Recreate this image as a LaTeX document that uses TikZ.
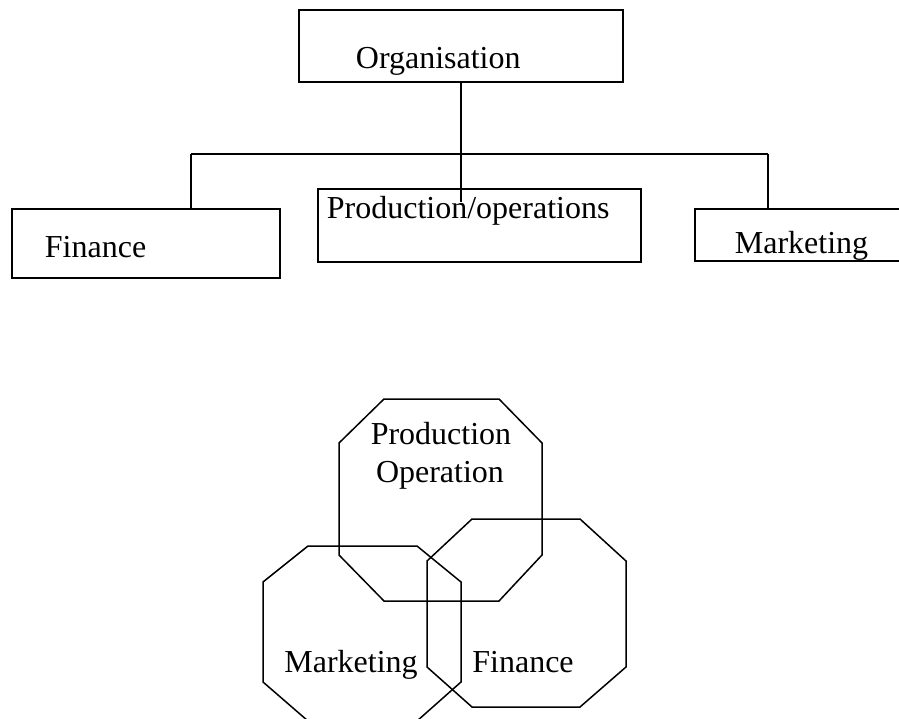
\documentclass[tikz,border=0pt]{standalone}
\usepackage{fontspec}
\setmainfont{Liberation Serif}
\begin{document}
\begin{tikzpicture}[x=1pt, y=-1pt, line width=1.8pt,
  box/.style={draw, rectangle, inner sep=0pt},
  lbl/.style={inner sep=0pt, font=\fontsize{32}{38}\selectfont},
  oct/.style={line width=1.5pt, line join=miter}]
\useasboundingbox (0,0) rectangle (899,719);

% Organograma
\node[box, minimum width=324pt, minimum height=72pt] (org) at (461,46) {};
\node[box, minimum width=268pt, minimum height=69pt] (fin) at (146,243.5) {};
\node[box, minimum width=323pt, minimum height=73pt] (prod) at (479.5,225.5) {};
\node[box, minimum width=220pt, minimum height=52pt] (mkt) at (805,235) {};
\node[lbl, anchor=base west] (orgtext) at (355,69) {Organisation};
\node[lbl, anchor=base west] (fintext) at (44,258) {Finance};
\node[lbl, anchor=base west] (prodtext) at (326,219) {Production/operations};
\node[lbl, anchor=base west] (mkttext) at (734,254) {Marketing};

% Ligacoes
\coordinate (trunkend) at (461,202);
\coordinate (barleft) at (191,154);
\coordinate (barright) at (768,154);
\draw (org.south) -- (trunkend);
\draw (barleft) -- (barright);
\draw (barleft) -- (barleft |- fin.north);
\draw (barright) -- (barright |- mkt.north);

% Octogonos
\draw[oct] (384,399) -- (499,399) -- (542,443) -- (542,555) -- (499,601) -- (384,601) -- (339,555) -- (339,443) -- cycle;
\draw[oct] (308,546) -- (417,546) -- (461,582) -- (461,682) -- (417,721) -- (308,721) -- (263,682) -- (263,582) -- cycle;
\draw[oct] (472,519) -- (580,519) -- (626,561) -- (626,667) -- (580,707) -- (472,707) -- (427,667) -- (427,561) -- cycle;
\node[lbl, anchor=base] (prodline) at (441,444.5) {Production};
\node[lbl, anchor=base] (opline) at (440,482.5) {Operation};
\node[lbl, anchor=base] (mktline) at (351,672) {Marketing};
\node[lbl, anchor=base] (finline) at (523,672) {Finance};
\end{tikzpicture}
\end{document}
